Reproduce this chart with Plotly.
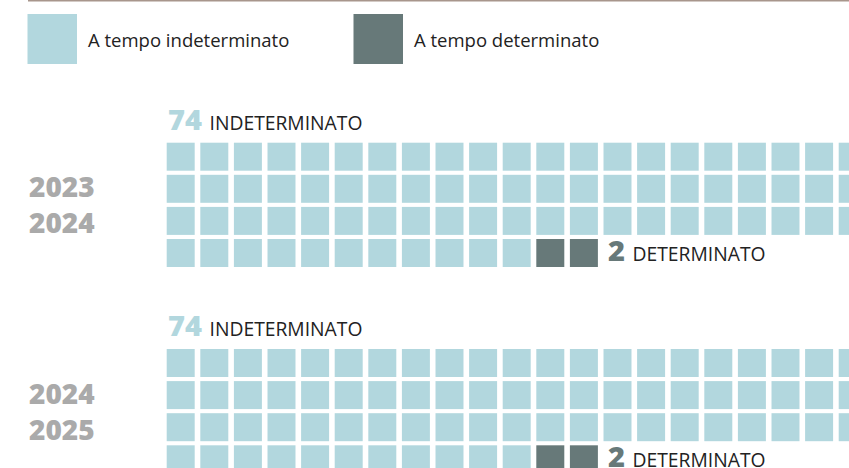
import plotly.graph_objects as go

# ---------------- data ----------------
period_start = ["2023", "2024"]
period_end = ["2024", "2025"]
indeterminato = [74, 74]
determinato = [2, 2]
categories = ["A tempo indeterminato", "A tempo determinato"]
count_labels = ["INDETERMINATO", "DETERMINATO"]
colors = ["#b2d7de", "#677979"]

# ---------------- layout constants (pixels) ----------------
W, H = 849, 468
N_COLS = 21
PITCH_X = 33.6          # px per column
PITCH_Y = 32.1          # px per row
COL0_PX = 180.7         # centre of first column
ROW0_PX = 156.7         # centre of first row of first panel
PANEL_PX = 206.3        # vertical offset between panels
CELL = 28               # square side (px)
PANEL_ROWS = PANEL_PX / PITCH_Y


def cx(px):
    return (px - COL0_PX) / PITCH_X


def cy(py):
    return (py - ROW0_PX) / PITCH_Y


fig = go.Figure()

# waffle cells
for k, cat in enumerate(categories):
    xs, ys = [], []
    for p in range(len(period_start)):
        counts = [indeterminato[p], determinato[p]]
        start = sum(counts[:k])
        for idx in range(start, start + counts[k]):
            xs.append(idx % N_COLS)
            ys.append(idx // N_COLS + p * PANEL_ROWS)
    fig.add_trace(go.Scatter(
        x=xs, y=ys, mode="markers", name=cat, showlegend=False,
        hoverinfo="skip",
        marker=dict(symbol="square", size=CELL, color=colors[k], line=dict(width=0)),
    ))

annotations = []
BIG = "font-size:29px;font-weight:800"
LBL = dict(family="Open Sans", size=19.3, color="#222222")
for p in range(len(period_start)):
    off = p * PANEL_PX
    # top label: count of indeterminate contracts
    annotations.append(dict(
        x=-0.5 + (1 - CELL / PITCH_X) / 2, y=cy(140.0 + off), xref="x", yref="y",
        xanchor="left", yanchor="bottom", showarrow=False, xshift=-1,
        text=f"<span style='{BIG};color:{colors[0]}'>{indeterminato[p]} </span>{count_labels[0]}",
        font=LBL,
    ))
    # label after last determinate cell
    last = indeterminato[p] + determinato[p] - 1
    annotations.append(dict(
        x=last % N_COLS + 0.5, y=last // N_COLS + p * PANEL_ROWS, xref="x", yref="y",
        xanchor="left", yanchor="middle", showarrow=False, xshift=5, yshift=4,
        text=f"<span style='{BIG};color:{colors[1]}'>{determinato[p]} </span>{count_labels[1]}",
        font=LBL,
    ))
    # period labels
    annotations.append(dict(
        x=cx(26.5), y=cy(204.3 + off), xref="x", yref="y",
        xanchor="left", yanchor="middle", showarrow=False, align="left",
        text=f"{period_start[p]}<br>{period_end[p]}",
        font=dict(family="Open Sans", size=28, color="#aaaaaa", weight=800),
    ))

# legend
legend_x = [27.5, 353.5]
shapes = [dict(type="line", xref="x", yref="y", x0=cx(28), x1=cx(W + 5), y0=cy(0.5), y1=cy(0.5),
               line=dict(color="#a8968c", width=2))]
for k, cat in enumerate(categories):
    lx = legend_x[k]
    shapes.append(dict(type="rect", xref="x", yref="y", x0=cx(lx), x1=cx(lx + 49.5),
                       y0=cy(14), y1=cy(64), fillcolor=colors[k], line=dict(width=0)))
    annotations.append(dict(
        x=cx(lx + 58.5), y=cy(39.5), xref="x", yref="y", xanchor="left", yanchor="middle",
        showarrow=False, text=cat, font=dict(family="Open Sans", size=18.5, color="#222222"),
    ))

fig.update_layout(
    width=W, height=H, margin=dict(l=0, r=0, t=0, b=0),
    paper_bgcolor="white", plot_bgcolor="white",
    xaxis=dict(range=[cx(0), cx(W)], visible=False, fixedrange=True),
    yaxis=dict(range=[cy(H), cy(0)], visible=False, fixedrange=True),
    annotations=annotations, shapes=shapes, showlegend=False,
)

fig.write_html("out.html", config={"displayModeBar": False},
               post_script="document.body.style.margin='0';document.body.style.overflow='hidden';")
